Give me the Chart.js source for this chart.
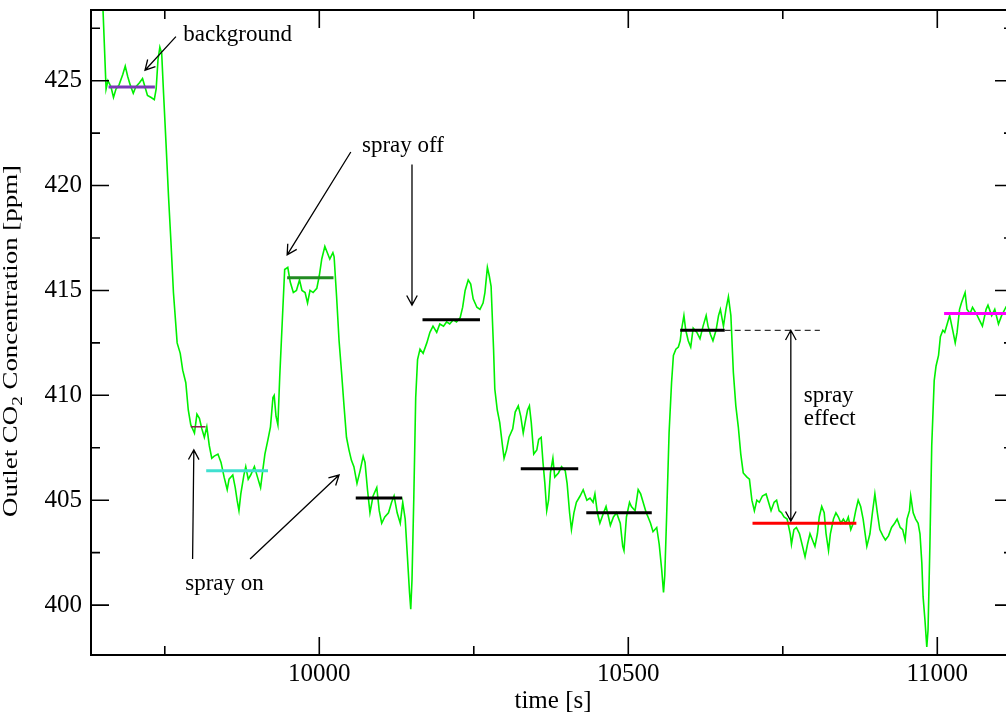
<!DOCTYPE html>
<html>
<head>
<meta charset="utf-8">
<script src="https://cdn.jsdelivr.net/npm/chart.js@4.4.1/dist/chart.umd.min.js"></script>
<style>
  html, body { margin: 0; padding: 0; background: #fff; overflow: hidden; }
  canvas { display: block; }
</style>
</head>
<body>
<canvas id="co2" width="1020" height="719"></canvas>
<script>
// Outlet CO2 trace with spray on / spray off plateaus

// measured trace, time [s]
const timeS = [
  9647, 9650, 9655, 9658, 9663, 9667, 9671, 9676, 9682, 9686, 9690, 9694, 9699, 9703, 9709, 9714,
  9718, 9722, 9728, 9733, 9736, 9739, 9742, 9745, 9748, 9752, 9756, 9760, 9764, 9770, 9775, 9779,
  9784, 9788, 9792, 9798, 9802, 9806, 9810, 9814, 9818, 9822, 9826, 9830, 9836, 9841, 9846, 9851,
  9854, 9860, 9864, 9867, 9870, 9873, 9878, 9881, 9885, 9889, 9895, 9900, 9905, 9908, 9912, 9917,
  9921, 9925, 9927, 9930, 9933, 9936, 9941, 9944, 9949, 9953, 9958, 9963, 9968, 9972, 9977, 9981,
  9985, 9990, 9996, 10000, 10004, 10009, 10013, 10017, 10022, 10024, 10028, 10032, 10036, 10040, 10044, 10048,
  10052, 10056, 10061, 10066, 10071, 10074, 10078, 10082, 10087, 10093, 10097, 10101, 10106, 10112, 10117, 10121,
  10126, 10131, 10135, 10139, 10142, 10146, 10148, 10150, 10153, 10156, 10159, 10163, 10168, 10174, 10179, 10184,
  10190, 10195, 10201, 10206, 10211, 10217, 10222, 10228, 10232, 10236, 10241, 10245, 10249, 10255, 10260, 10265,
  10268, 10272, 10275, 10278, 10282, 10284, 10288, 10292, 10296, 10299, 10303, 10307, 10313, 10317, 10322, 10326,
  10330, 10333, 10337, 10340, 10343, 10347, 10352, 10355, 10359, 10362, 10365, 10368, 10371, 10374, 10378, 10381,
  10387, 10392, 10398, 10401, 10405, 10408, 10412, 10416, 10422, 10427, 10433, 10438, 10443, 10446, 10450, 10454,
  10460, 10464, 10468, 10471, 10476, 10481, 10487, 10491, 10493, 10497, 10502, 10505, 10511, 10516, 10520, 10524,
  10529, 10532, 10536, 10540, 10546, 10550, 10554, 10557, 10559, 10562, 10566, 10570, 10573, 10577, 10581, 10584,
  10586, 10590, 10593, 10597, 10601, 10605, 10611, 10616, 10621, 10626, 10629, 10633, 10637, 10642, 10646, 10649,
  10654, 10658, 10662, 10666, 10670, 10674, 10678, 10682, 10686, 10692, 10696, 10700, 10704, 10708, 10712, 10717,
  10723, 10727, 10731, 10736, 10740, 10744, 10748, 10752, 10757, 10762, 10764, 10768, 10772, 10777, 10782, 10786,
  10790, 10794, 10798, 10802, 10806, 10809, 10813, 10817, 10820, 10824, 10827, 10832, 10836, 10840, 10844, 10848,
  10852, 10856, 10860, 10864, 10868, 10872, 10876, 10880, 10886, 10891, 10895, 10899, 10903, 10907, 10912, 10916,
  10921, 10926, 10931, 10935, 10940, 10944, 10948, 10951, 10955, 10957, 10961, 10965, 10969, 10972, 10975, 10977,
  10980, 10983, 10985, 10988, 10991, 10995, 10998, 11002, 11005, 11009, 11012, 11016, 11020, 11025, 11029, 11032,
  11036, 11039, 11045, 11048, 11053, 11057, 11063, 11068, 11073, 11079, 11082, 11088, 11093, 11099, 11104, 11111,
  11118,
];

// outlet CO2 [ppm], same length as timeS
const co2Ppm = [
  429.8, 428.4, 424.6, 425.0, 424.7, 424.2, 424.6, 424.8, 425.3, 425.7, 425.2, 424.8, 424.4, 424.7, 424.9, 425.1,
  424.7, 424.3, 424.2, 424.1, 424.6, 426.0, 426.6, 426.3, 424.4, 422.0, 419.5, 417.3, 414.9, 412.5, 412.0, 411.2,
  410.6, 409.3, 408.6, 408.2, 409.1, 408.9, 408.4, 408.0, 408.5, 407.6, 407.0, 407.1, 407.2, 406.8, 406.1, 405.5,
  406.0, 406.2, 405.6, 405.0, 404.5, 405.3, 406.2, 406.6, 406.0, 406.2, 406.6, 406.1, 405.6, 406.3, 407.2, 407.9,
  408.5, 409.9, 410.0, 409.0, 408.6, 410.9, 414.1, 416.0, 416.1, 415.4, 414.9, 415.0, 415.5, 415.0, 414.9, 414.4,
  415.0, 414.9, 415.1, 415.7, 416.5, 417.1, 416.8, 416.5, 416.8, 416.6, 414.7, 412.6, 411.1, 409.5, 408.0, 407.4,
  406.9, 406.6, 405.8, 406.4, 407.1, 406.8, 405.5, 404.4, 405.2, 405.6, 404.5, 403.9, 404.2, 404.4, 404.9, 405.2,
  404.4, 403.9, 404.9, 404.1, 402.6, 400.6, 399.8, 401.2, 405.2, 409.9, 411.7, 412.2, 412.0, 412.5, 413.0, 413.3,
  413.0, 413.4, 413.3, 413.5, 413.4, 413.6, 413.5, 413.7, 414.2, 415.0, 415.5, 415.3, 414.6, 414.2, 414.1, 414.4,
  414.9, 416.1, 415.7, 415.2, 412.2, 410.3, 409.3, 408.7, 407.7, 407.0, 407.4, 408.0, 408.4, 409.2, 409.5, 409.0,
  408.2, 408.7, 409.3, 409.5, 408.7, 407.2, 407.4, 407.9, 408.0, 406.8, 405.8, 404.5, 405.0, 406.3, 407.0, 406.1,
  406.3, 406.6, 406.4, 405.8, 404.4, 403.6, 404.4, 404.9, 405.2, 405.5, 405.0, 405.1, 404.9, 405.3, 404.4, 403.9,
  404.4, 404.7, 404.2, 403.8, 404.2, 404.4, 403.9, 402.8, 402.6, 404.2, 404.9, 404.7, 404.5, 405.5, 405.3, 404.9,
  404.4, 404.2, 403.9, 403.5, 403.7, 402.9, 401.7, 400.6, 401.4, 404.2, 408.2, 410.6, 411.9, 412.2, 412.3, 412.6,
  413.1, 413.8, 413.1, 412.6, 412.3, 413.2, 413.0, 412.7, 413.3, 413.8, 413.3, 412.9, 412.6, 413.1, 413.8, 414.1,
  413.3, 414.1, 414.7, 413.8, 411.1, 409.5, 408.5, 407.2, 406.3, 406.1, 406.0, 405.0, 404.5, 405.0, 404.9, 405.2,
  405.3, 404.9, 404.5, 404.9, 405.0, 404.5, 404.4, 404.2, 404.1, 403.4, 402.9, 403.6, 403.7, 403.4, 402.8, 402.3,
  402.9, 403.4, 403.1, 402.8, 403.4, 404.2, 404.7, 404.4, 403.4, 402.6, 403.4, 404.1, 404.4, 404.2, 403.9, 404.1,
  403.9, 404.2, 403.6, 403.9, 404.5, 405.0, 404.7, 404.1, 402.8, 403.4, 404.4, 405.3, 404.4, 403.6, 403.3, 403.1,
  403.3, 403.7, 403.9, 404.1, 403.7, 403.6, 403.1, 404.1, 404.5, 405.2, 404.4, 404.1, 403.9, 403.4, 402.0, 400.4,
  399.3, 398.0, 398.8, 402.8, 407.6, 410.7, 411.4, 411.9, 412.8, 413.1, 413.0, 413.4, 413.8, 413.1, 412.5, 413.0,
  414.1, 414.4, 414.9, 414.1, 413.9, 414.2, 413.9, 413.6, 413.3, 414.1, 414.3, 413.8, 414.1, 413.4, 413.8, 414.2,
  413.9,
];

// plateau averages: start time, end time, level
const meanStart = [9659, 9792, 9817, 9948, 10059, 10167, 10326, 10432, 10584, 10701, 11011];
const meanEnd   = [9734, 9816, 9917, 10023, 10134, 10260, 10419, 10538, 10656, 10869, 11125];
const meanLevel = [424.7, 408.5, 406.4, 415.6, 405.1, 413.6, 406.5, 404.4, 413.1, 403.9, 413.9];
const meanColor = ['#7a38b8', '#8b1a50', '#40e0d0', '#228b22', '#000', '#000', '#000', '#000', '#000', '#ff0000', '#ff00ff'];
const meanWidth = [3, 1.5, 3, 3, 3, 3, 3, 3, 3, 3, 3];

// dashed reference from the spray-off level
const refStart = 10656, refEnd = 10810, refLevel = 413.1;

// axis ticks
const xMajor = [10000, 10500, 11000];
const xMinor = [9750, 10250, 10750];
const yMajor = [400, 405, 410, 415, 420, 425];
const yMinor = [402.5, 407.5, 412.5, 417.5, 422.5, 427.5];

// annotation labels (left edge / baseline, in data units)
const noteText = ['background', 'spray off', 'spray on', 'spray', 'effect'];
const noteTime = [9780, 10069, 9783, 10784, 10784];
const notePpm  = [426.9, 421.6, 400.7, 409.7, 408.6];

// arrows: tail -> head
const arrowFromT = [9768, 10051, 10150, 9795, 9888, 10763];
const arrowFromP = [427.1, 421.6, 421.0, 402.2, 402.2, 413.1];
const arrowToT   = [9718, 9948, 10150, 9797, 10032, 10763];
const arrowToP   = [425.5, 416.7, 414.3, 407.4, 406.2, 404.0];
const arrowBoth  = [false, false, false, false, false, true];

const FONT = "'Liberation Serif', 'DejaVu Serif', serif";
Chart.defaults.font.family = FONT;
Chart.defaults.color = '#000';

const trace = timeS.map((t, i) => ({ x: t, y: co2Ppm[i] }));

const meanSets = meanLevel.map((lvl, i) => ({
  data: [{ x: meanStart[i], y: lvl }, { x: meanEnd[i], y: lvl }],
  borderColor: meanColor[i],
  borderWidth: meanWidth[i],
  pointRadius: 0,
  order: 1,
}));

function drawArrowHead(ctx, x1, y1, x2, y2) {
  const a = Math.atan2(y2 - y1, x2 - x1);
  const len = 11, spread = 0.5;
  ctx.moveTo(x2 - len * Math.cos(a - spread), y2 - len * Math.sin(a - spread));
  ctx.lineTo(x2, y2);
  ctx.lineTo(x2 - len * Math.cos(a + spread), y2 - len * Math.sin(a + spread));
}

// no extra room for edge labels, the plot box is fixed
function fixBox(size, key) {
  return s => {
    s[key] = size;
    s.paddingTop = 0; s.paddingBottom = 0;
    s.paddingLeft = 0; s.paddingRight = 0;
  };
}

// frame with inward ticks on all four sides
const framePlugin = {
  id: 'frame',
  afterDatasetsDraw(chart) {
    const { ctx, chartArea: a, scales } = chart;
    ctx.save();
    ctx.strokeStyle = '#000';
    ctx.lineWidth = 1.6;
    ctx.beginPath();
    const tickX = (vals, len) => {
      vals.forEach(v => {
        const px = scales.x.getPixelForValue(v);
        ctx.moveTo(px, a.bottom); ctx.lineTo(px, a.bottom - len);
        ctx.moveTo(px, a.top);    ctx.lineTo(px, a.top + len);
      });
    };
    const tickY = (vals, len) => {
      vals.forEach(v => {
        const py = scales.y.getPixelForValue(v);
        ctx.moveTo(a.left, py);  ctx.lineTo(a.left + len, py);
        ctx.moveTo(a.right, py); ctx.lineTo(a.right - len, py);
      });
    };
    tickX(xMajor, 18); tickX(xMinor, 9);
    tickY(yMajor, 18); tickY(yMinor, 9);
    ctx.stroke();
    ctx.lineWidth = 2;
    ctx.strokeRect(a.left, a.top, a.right - a.left, a.bottom - a.top);
    ctx.restore();
  },
  afterDraw(chart) {
    const { ctx, scales } = chart;
    const X = v => scales.x.getPixelForValue(v);
    const Y = v => scales.y.getPixelForValue(v);
    ctx.save();

    // arrows
    ctx.strokeStyle = '#000';
    ctx.lineWidth = 1.3;
    ctx.beginPath();
    arrowFromT.forEach((t, i) => {
      const x1 = X(t), y1 = Y(arrowFromP[i]), x2 = X(arrowToT[i]), y2 = Y(arrowToP[i]);
      ctx.moveTo(x1, y1); ctx.lineTo(x2, y2);
      drawArrowHead(ctx, x1, y1, x2, y2);
      if (arrowBoth[i]) drawArrowHead(ctx, x2, y2, x1, y1);
    });
    ctx.stroke();

    // labels
    ctx.fillStyle = '#000';
    ctx.font = '23px ' + FONT;
    ctx.textAlign = 'left';
    ctx.textBaseline = 'alphabetic';
    noteText.forEach((s, i) => ctx.fillText(s, X(noteTime[i]), Y(notePpm[i])));

    // x title
    ctx.font = '25px ' + FONT;
    ctx.textAlign = 'center';
    ctx.fillText('time [s]', 553, 708);

    // y title with subscript, stretched along its length like the original
    const big = '21px ' + FONT, small = '15px ' + FONT;
    const partA = 'Outlet CO', partSub = '2', partB = ' Concentration [ppm]';
    ctx.font = big;
    const wA = ctx.measureText(partA).width, wB = ctx.measureText(partB).width;
    ctx.font = small;
    const wS = ctx.measureText(partSub).width;
    const total = wA + wS + wB;
    ctx.translate(17, 341);
    ctx.rotate(-Math.PI / 2);
    ctx.scale(352 / total, 1);
    ctx.textAlign = 'left';
    let x0 = -total / 2;
    ctx.font = big;   ctx.fillText(partA, x0, 0); x0 += wA;
    ctx.font = small; ctx.fillText(partSub, x0, 5); x0 += wS;
    ctx.font = big;   ctx.fillText(partB, x0, 0);
    ctx.restore();
  },
};

new Chart(document.getElementById('co2'), {
  type: 'line',
  data: {
    datasets: [
      ...meanSets,
      {
        data: [{ x: refStart, y: refLevel }, { x: refEnd, y: refLevel }],
        borderColor: '#000',
        borderWidth: 1,
        borderDash: [6, 4],
        pointRadius: 0,
        order: 1,
      },
      {
        data: trace,
        borderColor: '#00f000',
        borderWidth: 1.6,
        pointRadius: 0,
        tension: 0,
        order: 2,
      },
    ],
  },
  options: {
    responsive: false,
    animation: false,
    devicePixelRatio: 1,
    layout: { padding: { top: 10, right: 7, bottom: 0, left: 0 } },
    plugins: { legend: { display: false }, tooltip: { enabled: false } },
    scales: {
      x: {
        type: 'linear',
        min: 9630.6,
        max: 11122.5,
        afterBuildTicks: s => { s.ticks = xMajor.map(v => ({ value: v })); },
        afterFit: fixBox(64, 'height'),
        grid: { display: false, drawTicks: false },
        border: { display: false },
        ticks: { font: { size: 25 }, color: '#000', padding: 4, maxRotation: 0, autoSkip: false, callback: v => String(v) },
      },
      y: {
        type: 'linear',
        min: 397.62,
        max: 428.37,
        afterBuildTicks: s => { s.ticks = yMajor.map(v => ({ value: v })); },
        afterFit: fixBox(91, 'width'),
        grid: { display: false, drawTicks: false },
        border: { display: false },
        ticks: { font: { size: 25 }, color: '#000', padding: 9, autoSkip: false, callback: v => String(v) },
      },
    },
  },
  plugins: [framePlugin],
});
</script>
</body>
</html>
